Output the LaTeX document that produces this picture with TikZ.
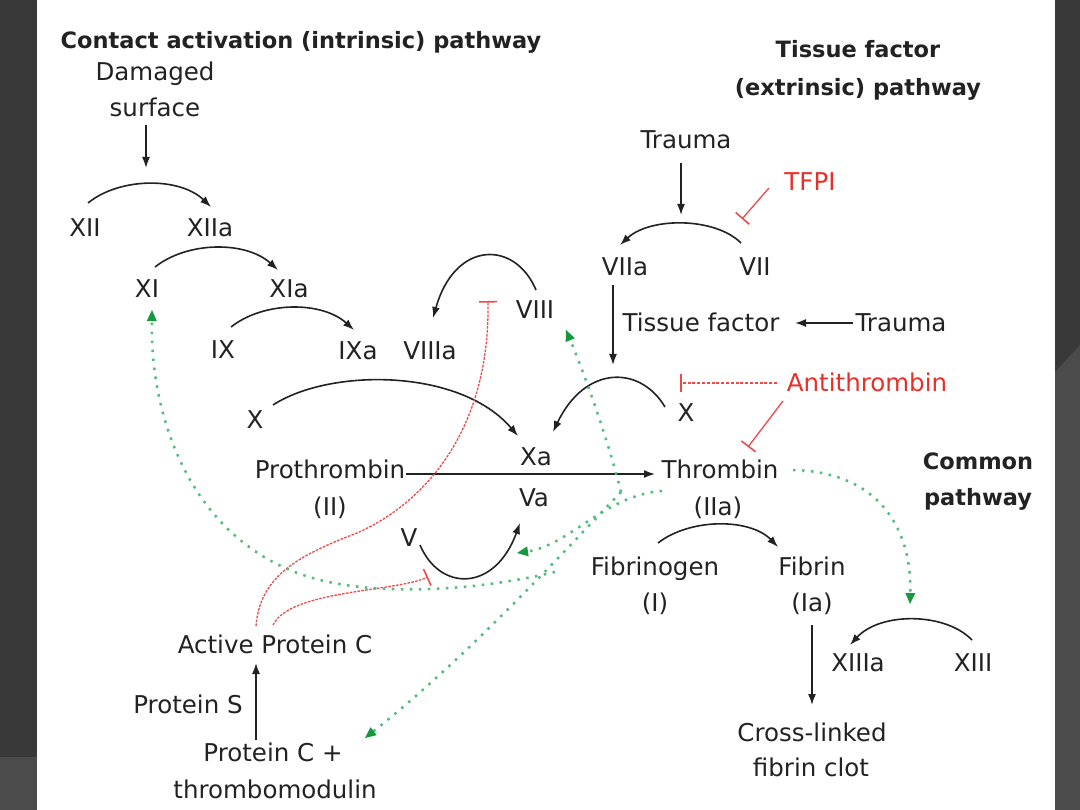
\documentclass[tikz,border=0pt]{standalone}
\usepackage{fontspec}
\setmainfont{DejaVu Sans}
\usetikzlibrary{arrows.meta}
\definecolor{bgdark}{HTML}{393939}
\definecolor{bglight}{HTML}{4B4B4B}
\definecolor{ink}{HTML}{222222}
\definecolor{rtext}{HTML}{E8302B}
\definecolor{rline}{HTML}{EE4A4A}
\definecolor{gdot}{HTML}{52BC7A}
\definecolor{gtip}{HTML}{16983E}
\tikzset{
  t/.style={inner sep=0pt, text=ink, font=\fontsize{24.5}{30}\selectfont, text height=0.72em, text depth=0.08em, yshift=-5pt},
  ttl/.style={inner sep=0pt, text=ink, font=\fontsize{22.5}{30}\selectfont\bfseries, text height=0.72em, text depth=0.08em, yshift=-4pt},
  rt/.style={t, text=rtext},
  ln/.style={draw=ink, line width=1.6pt},
  arr/.style={ln, -{Latex[length=11pt,width=8pt]}},
  inh/.style={draw=rline, line width=1.3pt, -{Bar[width=18pt,line width=1.6pt]}},
  inhd/.style={inh, dash pattern=on 2.6pt off 1.3pt},
  grn/.style={draw=gdot, line width=2.5pt, dash pattern=on 2.5pt off 6.5pt,
    -{Triangle[length=11pt,width=10pt,line width=0pt,color=gtip,fill=gtip]}}
}
\begin{document}
\begin{tikzpicture}[x=1pt,y=-1pt]
\useasboundingbox (0,0) rectangle (1080,810);
% slide background
\fill[bgdark] (0,0) rectangle (1080,810);
\fill[bglight] (0,757) rectangle (37,810);
\fill[bglight] (1055,372) -- (1080,345) -- (1080,810) -- (1055,810) -- cycle;
\fill[white] (37,0) rectangle (1055,810);

% titles
\node[ttl] (ttl1) at (301,41) {Contact activation (intrinsic) pathway};
\node[ttl] (ttl2a) at (858,50) {Tissue factor};
\node[ttl] (ttl2b) at (858,88) {(extrinsic) pathway};
\node[ttl] (ttl3a) at (978,462) {Common};
\node[ttl] (ttl3b) at (978,498) {pathway};

% nodes
\node[t] (dmg1) at (155,72) {Damaged};
\node[t] (dmg2) at (155,108) {surface};
\node[t] (xii) at (85,228) {XII};
\node[t] (xiia) at (210,228) {XIIa};
\node[t] (xi) at (147,289) {XI};
\node[t] (xia) at (289,289) {XIa};
\node[t] (ix) at (223,350) {IX};
\node[t] (ixa) at (358,351) {IXa};
\node[t] (viiia) at (430,351) {VIIIa};
\node[t] (viii) at (535,310) {VIII};
\node[t] (xl) at (255,420) {X};
\node[t] (xa) at (536,457) {Xa};
\node[t] (va) at (534,498) {Va};
\node[t] (pro) at (330,470) {Prothrombin};
\node[t] (proii) at (330,507) {(II)};
\node[t] (thr) at (720,470) {Thrombin};
\node[t] (thriia) at (718,507) {(IIa)};
\node[t] (v) at (409,538) {V};
\node[t] (tr1) at (686,140) {Trauma};
\node[rt] (tfpi) at (810,182) {TFPI};
\node[t] (viia) at (625,267) {VIIa};
\node[t] (vii) at (755,267) {VII};
\node[t] (tf) at (701,323) {Tissue factor};
\node[t] (tr2) at (901,323) {Trauma};
\node[rt] (at) at (867,383) {Antithrombin};
\node[t] (xr) at (686,413) {X};
\node[t] (fbg) at (655,567) {Fibrinogen};
\node[t] (fbgi) at (655,603) {(I)};
\node[t] (fbn) at (812,567) {Fibrin};
\node[t] (fbnia) at (812,603) {(Ia)};
\node[t] (clot1) at (812,733) {Cross-linked};
\node[t] (clot2) at (811,768) {fibrin clot};
\node[t] (xiiia) at (858,663) {XIIIa};
\node[t] (xiii) at (973,663) {XIII};
\node[t] (apc) at (275,645) {Active Protein C};
\node[t] (ps) at (188,705) {Protein S};
\node[t] (pc1) at (273,753) {Protein C +};
\node[t] (pc2) at (275,790) {thrombomodulin};

% connector end points
\coordinate (dmgB) at (146,125);   \coordinate (dmgE) at (146,168);
\coordinate (tr1B) at (681,163);   \coordinate (tr1E) at (681,215);
\coordinate (viiaB) at (613,285);  \coordinate (viiaE) at (613,365);
\coordinate (tr2B) at (853,323);   \coordinate (tfE) at (795,323);
\coordinate (proB) at (406,474);   \coordinate (thrW) at (655,474);
\coordinate (fbnB) at (812,625);   \coordinate (clotN) at (812,705);
\coordinate (pcN) at (256,740);    \coordinate (apcS) at (256,663);
\coordinate (xiiS) at (88,203);    \coordinate (xiiaN) at (211,207);
\coordinate (xiS) at (155,267);    \coordinate (xiaN) at (278,270);
\coordinate (ixS) at (231,327);    \coordinate (ixaN) at (354,330);
\coordinate (viiiS) at (536,290);  \coordinate (viiiaN) at (433,318);
\coordinate (xlS) at (273,405);    \coordinate (xaNW) at (518,436);
\coordinate (viiS) at (741,243);   \coordinate (viiaN) at (620,245);
\coordinate (xrS) at (665,407);    \coordinate (xaNE) at (553,432);
\coordinate (vS) at (420,545);     \coordinate (vaS) at (520,523);
\coordinate (fbgN) at (658,543);   \coordinate (fbnN) at (778,547);
\coordinate (xiiiN) at (972,640);  \coordinate (xiiiaN) at (850,645);
\coordinate (tfpiS) at (769,188);  \coordinate (tfpiE) at (742,219);
\coordinate (atW) at (777,383);    \coordinate (atE) at (680,383);
\coordinate (atS) at (783,401);    \coordinate (thrN) at (748,447);
\coordinate (apcA) at (256,626);   \coordinate (viiiT) at (488,301);
\coordinate (apcB) at (273,625);   \coordinate (vT) at (428,577);
\coordinate (thrSW) at (621,492);  \coordinate (thrSW2) at (662,491);
\coordinate (viiiG) at (566,330);  \coordinate (vaG) at (517,553);
\coordinate (pcG) at (365,738);    \coordinate (brG) at (555,572);
\coordinate (xiG) at (152,310);    \coordinate (thrE) at (793,470);
\coordinate (xiiiaG) at (910,604);

% straight arrows
\draw[arr] (dmgB) -- (dmgE);
\draw[arr] (tr1B) -- (tr1E);
\draw[arr] (viiaB) -- (viiaE);
\draw[arr] (tr2B) -- (tfE);
\draw[arr] (proB) -- (thrW);
\draw[arr] (fbnB) -- (clotN);
\draw[arr] (pcN) -- (apcS);

% arc arrows
\draw[arr] (xiiS) .. controls (120,177) and (180,177) .. (xiiaN);
\draw[arr] (xiS) .. controls (188,241) and (246,241) .. (xiaN);
\draw[arr] (ixS) .. controls (264,301) and (322,301) .. (ixaN);
\draw[arr] (viiiS) .. controls (515,240) and (455,240) .. (viiiaN);
\draw[arr] (xlS) .. controls (330,368) and (460,368) .. (xaNW);
\draw[arr] (viiS) .. controls (715,217) and (650,217) .. (viiaN);
\draw[arr] (xrS) .. controls (640,365) and (585,365) .. (xaNE);
\draw[arr] (vS) .. controls (440,592) and (495,592) .. (vaS);
\draw[arr] (fbgN) .. controls (690,518) and (750,518) .. (fbnN);
\draw[arr] (xiiiN) .. controls (945,612) and (880,612) .. (xiiiaN);

% inhibitions (red)
\draw[inh] (tfpiS) -- (tfpiE);
\draw[inhd, dash pattern=on 3pt off 1.8pt] (atW) -- (atE);
\draw[inh] (atS) -- (thrN);
\draw[inhd] (apcA) .. controls (260,575) and (300,555) .. (357,533)
  .. controls (425,503) and (490,430) .. (viiiT);
\draw[inhd] (apcB) .. controls (290,590) and (395,592) .. (vT);

% thrombin feedback (green dotted)
\draw[grn] (thrSW) .. controls (608,440) and (585,375) .. (viiiG);
\draw[grn] (thrSW2) .. controls (605,495) and (570,545) .. (vaG);
\draw[grn] (thrSW) .. controls (570,545) and (470,655) .. (pcG);
\draw[grn] (brG) .. controls (470,592) and (380,595) .. (320,580)
  .. controls (200,550) and (150,430) .. (xiG);
\draw[grn] (thrE) .. controls (880,472) and (912,530) .. (xiiiaG);
\end{tikzpicture}
\end{document}
